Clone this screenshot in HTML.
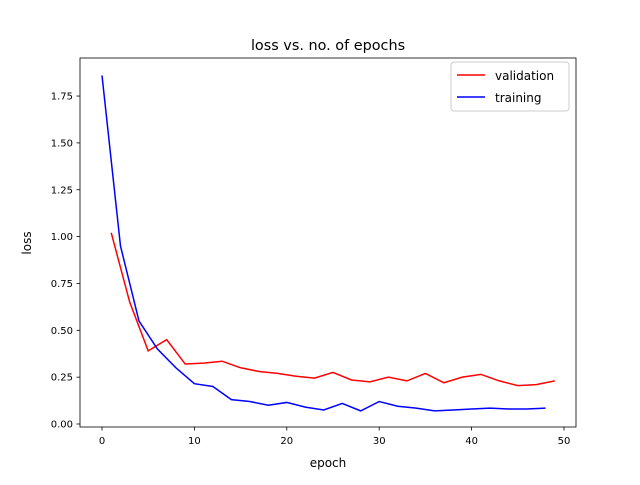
<!DOCTYPE html>
<html><head><meta charset="utf-8"><style>
body{margin:0;background:#fff;}
svg text{font-family:"DejaVu Sans","Liberation Sans",sans-serif;fill:#000;}
</style></head><body>
<svg id="chart" width="640" height="480" xmlns="http://www.w3.org/2000/svg">
<rect width="640" height="480" fill="#fff"/>
<text x="328" y="50" font-size="14.4" text-anchor="middle">loss vs. no. of epochs</text>
<g id="plot"></g>
<rect x="80" y="58" width="496" height="369" fill="none" stroke="#000" stroke-width="0.8"/>
<text x="328" y="467" font-size="12" text-anchor="middle">epoch</text>
<text x="31" y="243" font-size="12" text-anchor="middle" transform="rotate(-90 31 243)">loss</text>
<g>
<rect x="451" y="62" width="118" height="49" rx="3" fill="#fff" fill-opacity="0.8" stroke="#ccc"/>
<line x1="457" y1="75" x2="485" y2="75" stroke="red" stroke-width="1.5"/>
<text x="495" y="80" font-size="12">validation</text>
<line x1="457" y1="97" x2="485" y2="97" stroke="blue" stroke-width="1.5"/>
<text x="495" y="102" font-size="12">training</text>
</g>
</svg>
<script>
const valEpochs=[1,3,5,7,9,11,13,15,17,19,21,23,25,27,29,31,33,35,37,39,41,43,45,47,49];
const valLoss=[1.02,0.65,0.39,0.45,0.32,0.325,0.335,0.30,0.28,0.27,0.255,0.245,0.275,0.235,0.225,0.25,0.23,0.27,0.22,0.25,0.265,0.23,0.205,0.21,0.23];
const trainEpochs=[0,2,4,6,8,10,12,14,16,18,20,22,24,26,28,30,32,34,36,38,40,42,44,46,48];
const trainLoss=[1.86,0.95,0.55,0.40,0.30,0.215,0.20,0.13,0.12,0.10,0.115,0.09,0.075,0.11,0.07,0.12,0.095,0.085,0.07,0.075,0.08,0.085,0.08,0.08,0.085];
const xTicks=[0,10,20,30,40,50];
const yTicks=[0,0.25,0.5,0.75,1.0,1.25,1.5,1.75];
const NS="http://www.w3.org/2000/svg";
function sx(v){return 102+v*9.24;}
function sy(v){return 424-v*187.4;}
const g=document.getElementById('plot');
function mk(t,a){const e=document.createElementNS(NS,t);for(const k in a)e.setAttribute(k,a[k]);g.appendChild(e);return e;}
xTicks.forEach(v=>{
  const l=mk('line',{x1:sx(v),x2:sx(v),y1:427,y2:430.5,stroke:'#000','stroke-width':0.8});
  
  
  const t=mk('text',{x:sx(v),y:444,'font-size':10,'text-anchor':'middle'});t.textContent=v;
  
  
});
yTicks.forEach(v=>{
  const l=mk('line',{x1:76.5,x2:80,y1:sy(v),y2:sy(v),stroke:'#000','stroke-width':0.8});
  
  
  const t=mk('text',{x:73,y:sy(v)+3.5,'font-size':10,'text-anchor':'end'});t.textContent=v.toFixed(2);
  
  
});
function line(xs,ys,c,name){
  const p=mk('polyline',{points:xs.map((x,i)=>sx(x)+','+sy(ys[i])).join(' '),fill:'none',stroke:c,'stroke-width':1.5});
  
  
}
line(valEpochs,valLoss,'red','validation-line');
line(trainEpochs,trainLoss,'blue','training-line');
</script>
</body></html>
